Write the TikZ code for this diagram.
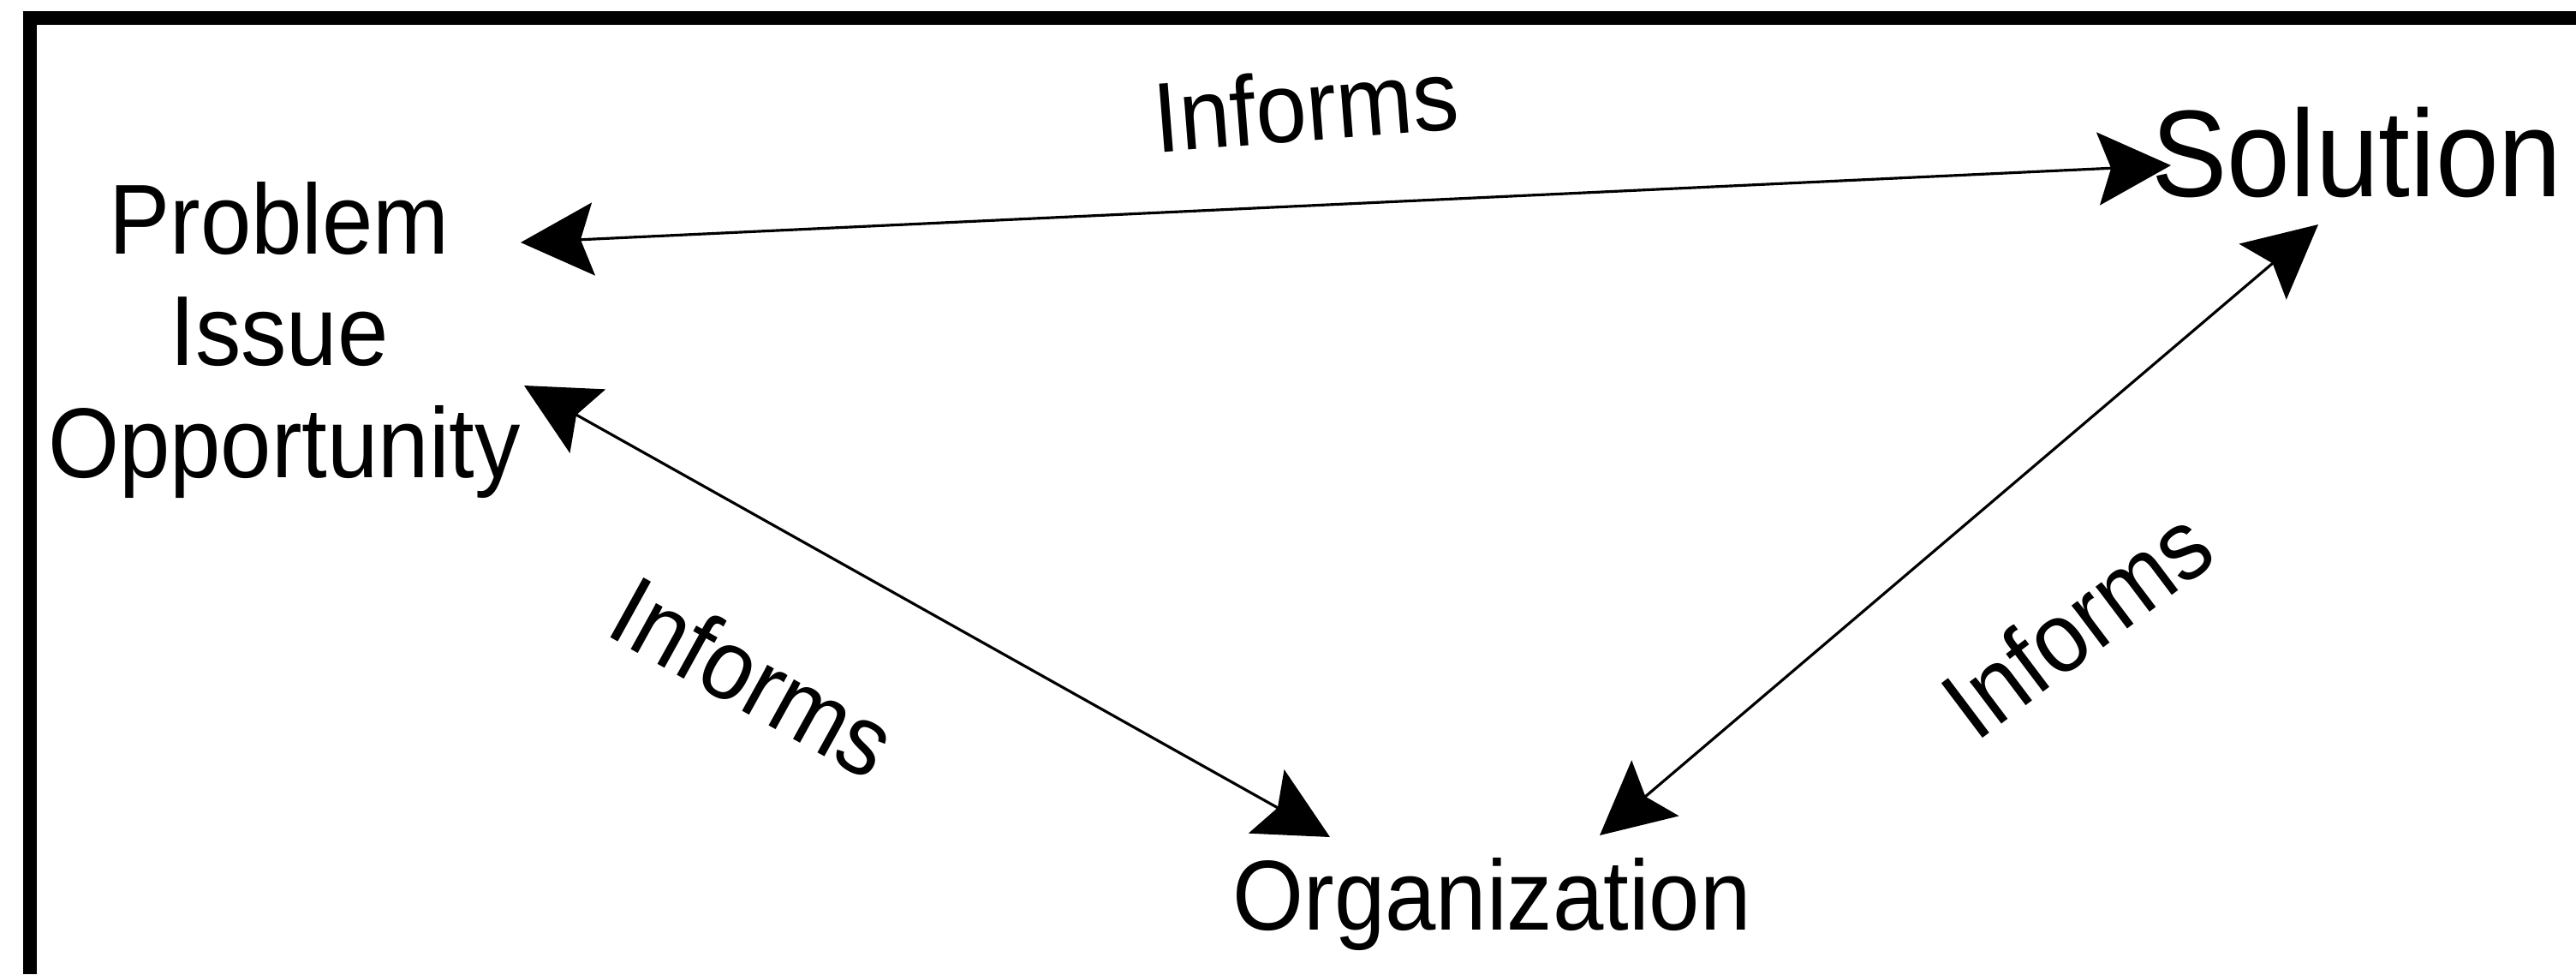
\documentclass[tikz,border=0pt]{standalone}
\usepackage{fontspec}
\setmainfont{Liberation Sans}[FakeStretch=0.92]
\usetikzlibrary{arrows.meta}
\newcommand{\drawLink}[2]{
  \draw[<->] (#1) -- (#2);
}

\begin{document}
\begin{tikzpicture}[line width=0.9pt, >={Stealth[length=8.5mm, width=8.5mm, inset=1.5mm]},
  every node/.style={inner sep=0pt, font=\fontsize{33}{37}\selectfont},
  term/.style={anchor=base}]
  \useasboundingbox (0,0) rectangle (30.08,-11.37);
  % Frame
  \draw[line width=4.3pt] (0.35,-11.37) -- (0.35,-0.21) -- (30.08,-0.21);
  % Nodes
  \node[term] (prob) at (3.26,-2.96) {Problem};
  \node[term] (issue) at (3.26,-4.26) {Issue};
  \node[term] (opp) at (3.32,-5.57) {Opportunity};
  \node[term, font=\fontsize{41}{46}\selectfont] (sol) at (27.52,-2.29) {Solution};
  \node[term] (org) at (17.42,-10.85) {Organization};
  % Links
  \drawLink{[shift={(2.82,0.13)}]prob.base}{[shift={(-2.17,0.36)}]sol.base}
  \drawLink{[shift={(2.80,1.07)}]opp.base}{[shift={(-1.89,1.08)}]org.base}
  \drawLink{[shift={(1.26,1.10)}]org.base}{[shift={(-0.45,-0.33)}]sol.base}
  % Labels
  \node[rotate=4.5] (infTop) at (15.25,-1.23) {Informs};
  \node[rotate=-29] (infLeft) at (8.80,-7.90) {Informs};
  \node[rotate=37] (infRight) at (24.25,-7.27) {Informs};
\end{tikzpicture}
\end{document}
